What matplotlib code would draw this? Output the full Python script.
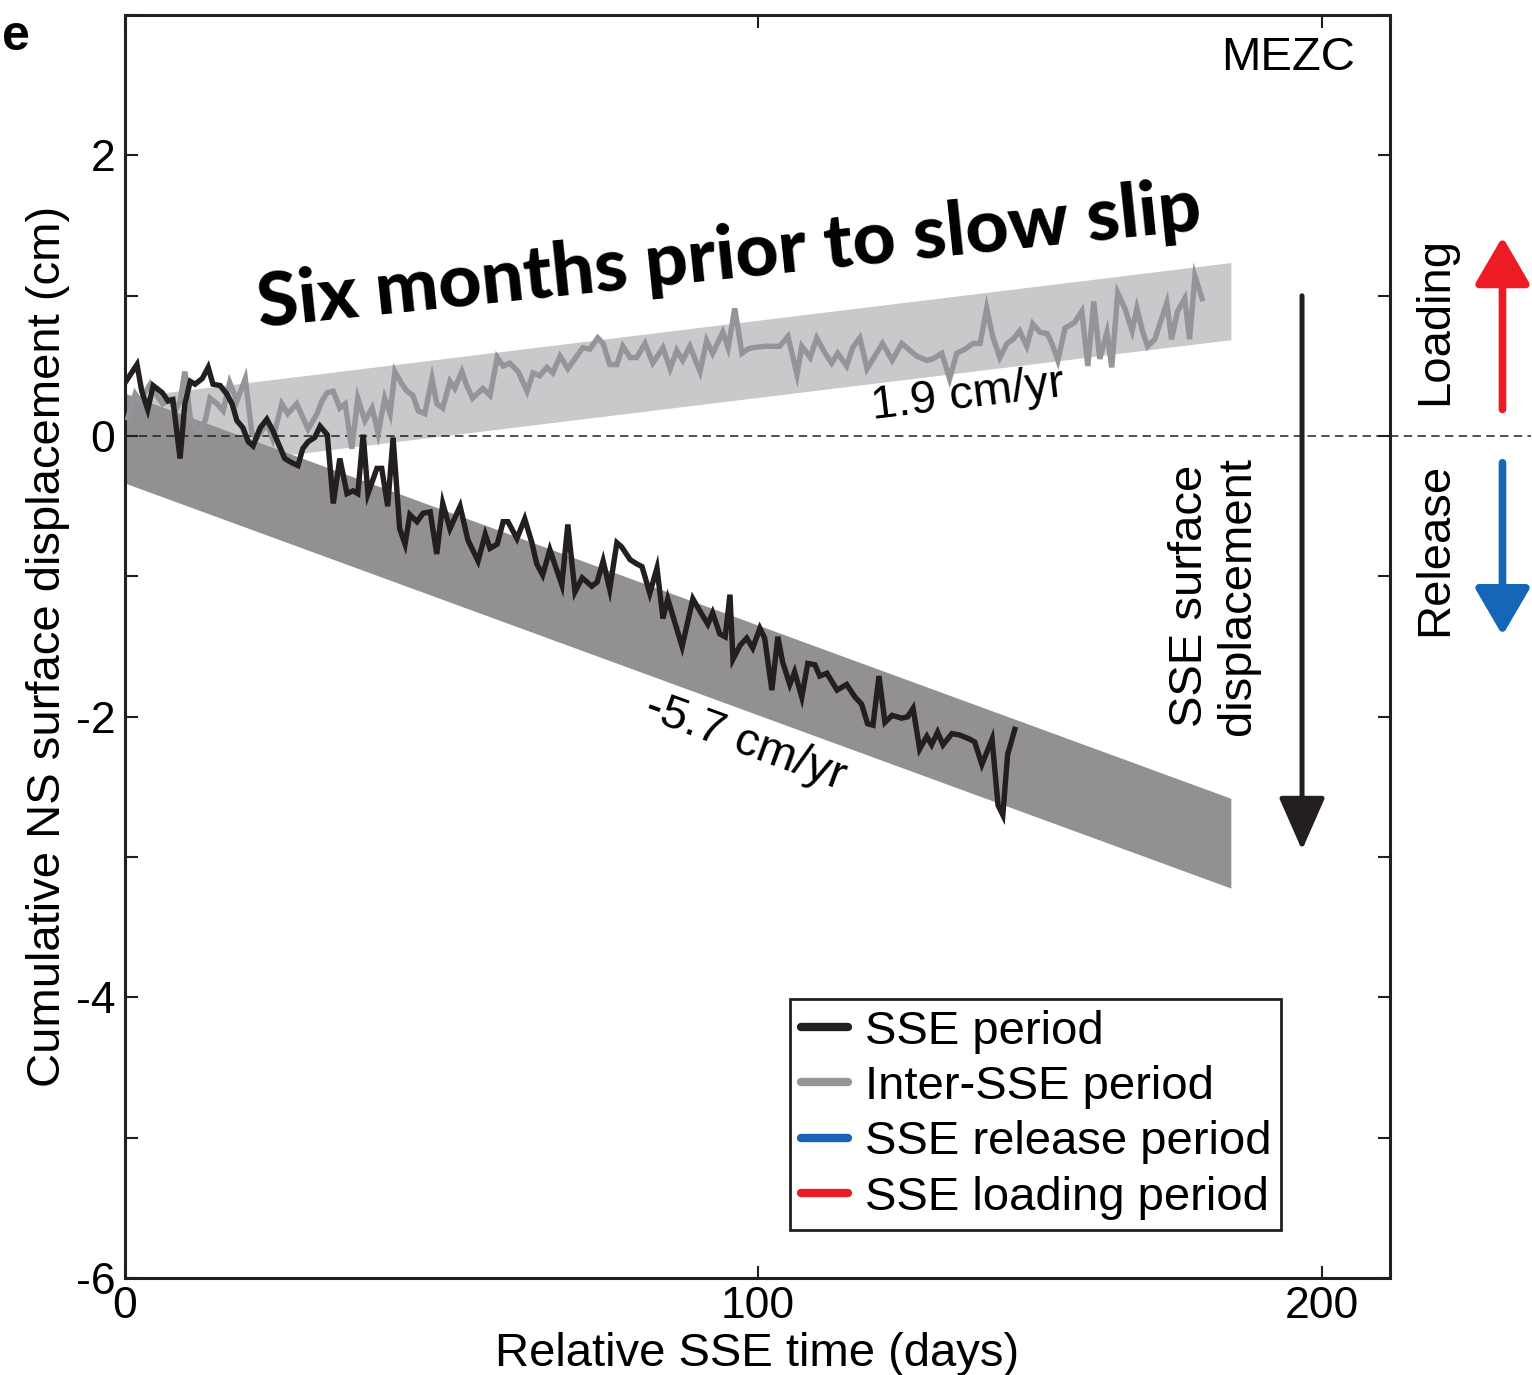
import matplotlib.pyplot as plt
from matplotlib.lines import Line2D
from matplotlib.ticker import FixedLocator, MultipleLocator

plt.rcParams['font.family'] = ['Liberation Sans', 'DejaVu Sans']
plt.rcParams['axes.unicode_minus'] = False

# SSE period (black) - days, cm
sse_days = [0.0, 2.0, 2.8, 3.8, 4.7, 6.2, 7.2, 8.0, 9.2, 10.0, 10.9, 11.7, 12.9, 13.9, 14.7,
            15.9, 17.0, 17.9, 18.7, 19.7, 20.6, 21.4, 22.6, 23.7, 24.7, 25.6, 26.7, 27.9, 28.9,
            29.7, 30.6, 31.7, 32.6, 33.8, 34.8, 35.9, 37.1, 38.1, 38.9, 39.8, 40.6, 42.1, 42.9,
            43.9, 44.8, 45.9, 46.8, 47.6, 48.8, 49.8, 51.0, 52.1, 53.1, 54.3, 56.0, 57.3, 59.0,
            60.2, 61.0, 62.2, 63.2, 64.0, 65.5, 66.8, 68.0, 68.8, 69.8, 71.0, 73.0, 74.0, 75.2,
            76.4, 78.0, 78.9, 79.9, 81.0, 82.2, 83.0, 84.4, 85.5, 86.4, 87.7, 88.9, 89.9, 90.7,
            93.1, 94.9, 96.4, 97.4, 98.2, 99.4, 100.3, 101.1, 101.6, 102.8, 103.9, 104.9, 106.1,
            106.9, 108.1, 109.1, 109.9, 111.1, 111.9, 113.1, 114.1, 115.3, 116.1, 117.3, 119.0,
            120.6, 122.0, 123.1, 124.1, 125.0, 126.0, 127.0, 128.2, 129.8, 130.8, 131.7, 132.8,
            134.0, 134.8, 135.8, 136.7, 138.2, 139.5, 141.2, 142.0, 143.2, 144.9, 145.9, 146.7,
            147.5, 148.7]
sse_cm = [0.38, 0.51, 0.32, 0.19, 0.36, 0.31, 0.25, 0.26, -0.16, 0.23, 0.39, 0.37, 0.41, 0.49,
          0.37, 0.36, 0.30, 0.23, 0.11, 0.06, -0.04, -0.07, 0.06, 0.12, 0.04, -0.05, -0.16, -0.19,
          -0.21, -0.09, -0.04, -0.01, 0.07, 0.01, -0.48, -0.16, -0.41, -0.39, -0.41, 0.01, -0.41,
          -0.23, -0.23, -0.50, -0.01, -0.66, -0.77, -0.56, -0.61, -0.55, -0.54, -0.84, -0.48,
          -0.66, -0.50, -0.74, -0.89, -0.70, -0.80, -0.77, -0.61, -0.61, -0.73, -0.59, -0.76,
          -0.91, -0.99, -0.81, -1.06, -0.63, -1.11, -1.01, -1.07, -1.04, -0.89, -1.09, -0.76,
          -0.79, -0.88, -0.91, -0.93, -1.12, -0.94, -1.30, -1.16, -1.50, -1.16, -1.27, -1.34,
          -1.26, -1.41, -1.43, -1.13, -1.59, -1.49, -1.44, -1.51, -1.37, -1.44, -1.81, -1.43,
          -1.61, -1.77, -1.68, -1.86, -1.62, -1.63, -1.71, -1.69, -1.81, -1.77, -1.86, -1.91,
          -2.05, -2.06, -1.71, -2.04, -1.99, -2.01, -2.00, -1.94, -2.23, -2.14, -2.20, -2.11,
          -2.20, -2.12, -2.13, -2.16, -2.18, -2.34, -2.16, -2.63, -2.70, -2.27, -2.09]

# Inter-SSE period (gray) - days, cm
inter_days = [0.5, 1.7, 2.5, 4.2, 5.3, 6.3, 7.5, 8.4, 9.2, 10.0, 10.9, 11.7, 12.5, 13.4, 14.2,
              15.4, 16.4, 17.5, 18.7, 20.1, 21.2, 22.1, 23.7, 24.7, 26.2, 27.2, 28.7, 30.6, 32.1,
              32.9, 33.8, 34.8, 35.9, 36.8, 37.9, 38.9, 40.1, 41.3, 42.3, 43.4, 44.3, 45.1, 46.3,
              47.1, 48.1, 49.0, 50.1, 51.3, 52.1, 53.1, 54.3, 55.1, 56.3, 57.1, 58.1, 59.8, 61.0,
              62.2, 63.2, 64.3, 65.7, 67.2, 68.2, 69.3, 70.5, 71.5, 72.7, 74.0, 75.5, 76.5, 77.7,
              79.0, 79.9, 81.0, 82.2, 83.2, 84.4, 85.5, 86.9, 88.2, 89.9, 91.1, 92.2, 93.2, 94.4,
              96.1, 97.2, 98.2, 99.9, 100.8, 101.9, 103.1, 104.1, 104.9, 106.9, 109.4, 110.8,
              112.3, 113.1, 114.5, 115.6, 117.0, 118.1, 119.1, 120.6, 121.6, 122.8, 124.0, 125.3,
              126.6, 128.2, 129.8, 131.2, 132.3, 134.0, 135.0, 136.5, 137.8, 139.0, 140.4, 141.7,
              142.9, 144.0, 145.0, 146.2, 147.4, 148.4, 149.5, 150.7, 151.7, 152.9, 154.1, 154.9,
              155.9, 157.1, 157.9, 158.7, 159.9, 160.9, 161.9, 162.9, 164.1, 164.9, 165.9, 167.1,
              168.3, 169.1, 170.1, 170.9, 172.1, 174.1, 174.9, 175.9, 177.1, 177.9, 178.8, 180.0]
inter_cm = [0.13, 0.30, 0.25, 0.37, 0.29, 0.23, 0.26, 0.18, 0.25, 0.46, 0.13, 0.07, 0.04, 0.11,
            0.27, 0.23, 0.18, 0.38, 0.25, 0.41, 0.02, -0.01, 0.09, -0.02, 0.23, 0.16, 0.23, 0.05,
            0.16, 0.25, 0.31, 0.32, 0.20, 0.23, -0.09, 0.27, 0.11, 0.20, 0.02, 0.27, 0.16, 0.46,
            0.37, 0.32, 0.29, 0.18, 0.16, 0.41, 0.23, 0.20, 0.39, 0.34, 0.46, 0.36, 0.27, 0.34,
            0.29, 0.56, 0.50, 0.52, 0.46, 0.32, 0.45, 0.43, 0.49, 0.45, 0.57, 0.48, 0.57, 0.63,
            0.62, 0.70, 0.66, 0.51, 0.51, 0.64, 0.56, 0.56, 0.66, 0.52, 0.63, 0.48, 0.61, 0.54,
            0.64, 0.46, 0.68, 0.59, 0.74, 0.63, 0.91, 0.59, 0.62, 0.63, 0.64, 0.64, 0.71, 0.44,
            0.64, 0.56, 0.70, 0.59, 0.52, 0.59, 0.50, 0.63, 0.70, 0.48, 0.57, 0.66, 0.54, 0.66,
            0.61, 0.57, 0.54, 0.55, 0.59, 0.41, 0.59, 0.62, 0.66, 0.66, 0.91, 0.71, 0.56, 0.66,
            0.69, 0.75, 0.64, 0.80, 0.74, 0.73, 0.66, 0.54, 0.77, 0.79, 0.81, 0.89, 0.50, 0.96,
            0.55, 0.74, 0.49, 1.02, 0.91, 0.75, 0.91, 0.74, 0.64, 0.69, 0.95, 0.69, 0.89, 0.98,
            0.69, 1.14, 0.98]

# velocity bands (cm/yr), offset at t=0 and half width (cm)
band_rates = [1.9, -5.7]
band_offsets = [0.0, -0.015]
band_halfwidths = [0.275, 0.32]
band_colors = ['#c8c9cb', '#929092']
band_t = [0.0, 184.8]

fig = plt.figure(figsize=(15.32, 13.75), dpi=100)
ax = fig.add_axes([0.0816, 0.0705, 0.8257, 0.9185])

# bands: light (inter-SSE) first, dark (SSE) on top
for r, o, h, c in zip(band_rates, band_offsets, band_halfwidths, band_colors):
    mid = [o + r / 365.0 * t for t in band_t]
    ax.fill_between(band_t, [m - h for m in mid], [m + h for m in mid], color=c, lw=0, zorder=1)

# zero line extends out to the right annotations
ax.plot([0, 235], [0, 0], ls=(0, (5.5, 3.5)), color='#231f20', lw=1.1, clip_on=False, zorder=2)

ax.plot(inter_days, inter_cm, color='#939598', lw=3.9, solid_joinstyle='miter', zorder=3)
ax.plot(sse_days, sse_cm, color='#231f20', lw=3.9, solid_joinstyle='miter', zorder=4)

ax.set_xlim(0, 211.4)
ax.set_ylim(-6, 3)

# ticks
ax.xaxis.set_major_locator(FixedLocator([0, 105.8, 200]))
ax.set_xticklabels(['0', '100', '200'])
ax.yaxis.set_major_locator(MultipleLocator(2))
ax.yaxis.set_minor_locator(MultipleLocator(1))
ax.tick_params(which='both', direction='in', length=9, width=1.5, color='#231f20',
               top=True, right=True, labelsize=32, pad=7)
ax.tick_params(axis='x', pad=6)
for s in ax.spines.values():
    s.set_linewidth(2.2)
    s.set_color('#231f20')

ax.set_xlabel('Relative SSE time (days)', fontsize=34, labelpad=3)
ax.set_ylabel('Cumulative NS surface displacement (cm)', fontsize=34, labelpad=4)

# texts
ax.text(101, 1.28, 'Six months prior to slow slip', rotation=5.9, fontsize=54,
        fontweight='black', family=['Lato', 'DejaVu Sans'], ha='center', va='center',
        rotation_mode='anchor')
ax.text(0.972, 0.966, 'MEZC', transform=ax.transAxes, ha='right', va='center', fontsize=34)
ax.text(140.9, 0.29, '1.9 cm/yr', rotation=6.9, fontsize=34, ha='center', va='center',
        rotation_mode='anchor')
ax.text(103.6, -2.18, '-5.7 cm/yr', rotation=-20.1, fontsize=34, ha='center', va='center',
        rotation_mode='anchor')
ax.text(182.0, -1.14, 'SSE surface\ndisplacement', rotation=90, fontsize=34, ha='center',
        va='center', multialignment='center', linespacing=1.1)

# SSE displacement arrow
ax.annotate('', xy=(196.7, -2.95), xytext=(196.7, 1.0),
            arrowprops=dict(arrowstyle='-|>,head_length=0.82,head_width=0.36', lw=3.6,
                            color='#231f20', shrinkA=0, shrinkB=0, mutation_scale=40),
            zorder=5)

# Loading / Release outside the axes
ax.text(219.0, 0.82, 'Loading', rotation=90, fontsize=34, ha='center', va='center',
        clip_on=False)
ax.text(219.0, -0.81, 'Release', rotation=90, fontsize=34, ha='center', va='center',
        clip_on=False)
ax.annotate('', xy=(230.2, 1.42), xytext=(230.2, 0.19), annotation_clip=False,
            arrowprops=dict(arrowstyle='-|>,head_length=0.72,head_width=0.42', lw=5.5,
                            color='#ed1c24', shrinkA=0, shrinkB=0, capstyle='round',
                            mutation_scale=40))
ax.annotate('', xy=(230.2, -1.42), xytext=(230.2, -0.19), annotation_clip=False,
            arrowprops=dict(arrowstyle='-|>,head_length=0.72,head_width=0.42', lw=5.5,
                            color='#1565b8', shrinkA=0, shrinkB=0, capstyle='round',
                            mutation_scale=40))

# legend
handles = [Line2D([], [], color='#231f20', lw=6, solid_capstyle='round'),
           Line2D([], [], color='#939598', lw=6, solid_capstyle='round'),
           Line2D([], [], color='#1565b8', lw=6, solid_capstyle='round'),
           Line2D([], [], color='#ed1c24', lw=6, solid_capstyle='round')]
labels = ['SSE period', 'Inter-SSE period', 'SSE release period', 'SSE loading period']
leg = ax.legend(handles, labels, loc='lower left', bbox_to_anchor=(0.526, 0.038),
                fontsize=34, frameon=True, fancybox=False, framealpha=1, edgecolor='#231f20',
                handlelength=1.0, handletextpad=0.35, labelspacing=0.24, borderpad=0.22,
                borderaxespad=0)
leg.get_frame().set_linewidth(2)

# panel letter
fig.text(0.001, 0.99, 'e', fontsize=36, fontweight='bold', ha='left', va='top')

fig.savefig('out.png', dpi=100)
